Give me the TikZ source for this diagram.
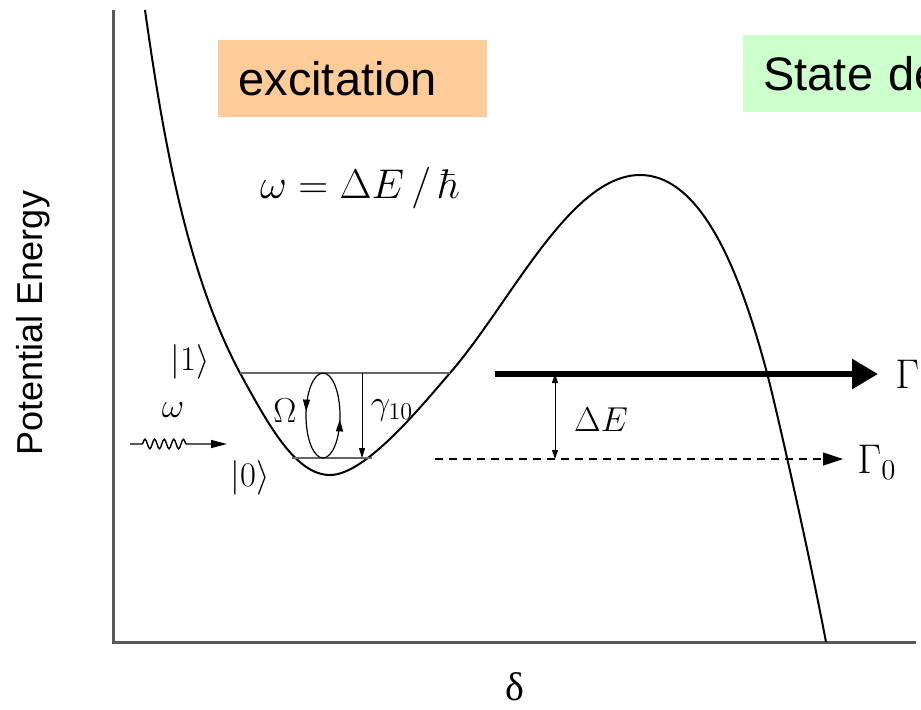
\documentclass[tikz,border=0pt]{standalone}
\usepackage[no-math]{fontspec}
\setmainfont{Liberation Sans}
\newfontfamily\serifgreek{Liberation Serif}
\usetikzlibrary{arrows.meta, positioning, calc, decorations.pathmorphing, decorations.markings}

\definecolor{peach}{HTML}{FFCC99}
\definecolor{mint}{HTML}{CCFFCC}

\begin{document}
\begin{tikzpicture}[
        x=0.5pt, y=-0.5pt,
        axis/.style={line width=1.5pt, draw=black!65},
        pes/.style={line width=1pt},
        lvl/.style={line width=0.6pt, draw=black!60},
        tagbox/.style={anchor=west, inner xsep=10pt, minimum height=38.5pt, text width=#1, align=left, font=\fontsize{23.5}{28}\selectfont},
        lbl/.style={inner sep=0pt, font=\fontsize{17}{20}\selectfont},
        small arr/.style={-{Triangle[length=5pt, width=3pt]}, line width=0.5pt},
        both arr/.style={{Triangle[length=4.5pt, width=3pt]}-{Triangle[length=4.5pt, width=3pt]}, line width=0.5pt},
        big arr/.style={-{Triangle[length=13pt, width=14.5pt]}, line width=3pt},
        dash arr/.style={-{Triangle[length=10pt, width=6.5pt]}, line width=0.6pt, dash pattern=on 4pt off 3pt},
        wave arr/.style={-{Triangle[length=8pt, width=4pt]}, line width=0.7pt, decorate,
            decoration={snake, segment length=4.8pt, amplitude=2.4pt, pre length=6pt, post length=18pt}},
        loop/.style={line width=0.6pt, postaction={decorate},
            decoration={markings,
                mark=at position 0.23 with {\arrow{Triangle[length=6pt, width=3.5pt]}},
                mark=at position 0.73 with {\arrow{Triangle[length=6pt, width=3.5pt]}}}}
    ]
        \useasboundingbox (0,0) rectangle (921,709);
        \clip (0,0) rectangle (921,709);

        % axes
        \coordinate (top) at (113,10);
        \coordinate (origin) at (113,642);
        \coordinate (right) at (916,642);
        \draw[axis] (top) -- (origin) -- (right);

        % potential curve
        \coordinate (start) at (145,10);
        \coordinate (lwall) at (240,373);
        \coordinate (well) at (330,475);
        \coordinate (rwall) at (450,373);
        \coordinate (barrier) at (640,175);
        \coordinate (fall) at (767,373);
        \coordinate (stop) at (826,642);
        \draw[pes] (start) .. controls (162,130) and (185,270) .. (lwall)
            .. controls (267.5,423) and (295,475) .. (well)
            .. controls (366,475) and (423,404) .. (rwall)
            .. controls (510,304) and (570,175) .. (barrier)
            .. controls (705,175) and (743,283) .. (fall)
            .. controls (775,403) and (809,552) .. (stop);

        % levels
        \coordinate (L1a) at (240,373);
        \coordinate (L1b) at (450,373);
        \coordinate (L0a) at (292,458);
        \coordinate (L0b) at (372,458);
        \draw[lvl] (L1a) -- (L1b);
        \draw[lvl] (L0a) -- (L0b);

        \coordinate (rabi) at (323,373);
        \draw[loop] (rabi) arc[start angle=270, end angle=-90, x radius=17, y radius=42.5];
        \coordinate (g1) at (362,373);
        \coordinate (g0) at (362,458);
        \draw[small arr] (g1) -- (g0);

        \node[lbl] (ket1) at (190,362) {$|1\rangle$};
        \node[lbl] (ket0) at (250,478) {$|0\rangle$};
        \node[lbl, font=\fontsize{19}{22}\selectfont] (Om) at (285,411) {$\Omega$};
        \node[lbl] (gam) at (392,410) {$\gamma_{10}$};
        \node[lbl, font=\fontsize{19}{22}\selectfont] (w) at (173,410) {$\omega$};

        % drive
        \coordinate (w0) at (130,444);
        \coordinate (w1) at (227,444);
        \draw[wave arr] (w0) -- (w1);

        % escape rates
        \coordinate (G1a) at (495,374);
        \coordinate (G1b) at (878,374);
        \coordinate (G0a) at (435,459);
        \coordinate (G0b) at (843,459);
        \coordinate (dEa) at (555,374);
        \coordinate (dEb) at (555,459);
        \draw[big arr] (G1a) -- (G1b);
        \draw[dash arr] (G0a) -- (G0b);
        \draw[both arr] (dEa) -- (dEb);
        \node[lbl, font=\fontsize{16}{19}\selectfont] (dE) at (601,420) {$\Delta E$};
        \node[lbl, anchor=west, font=\fontsize{20}{24}\selectfont] (G) at (895,374) {$\Gamma$};
        \node[lbl, anchor=west, font=\fontsize{20}{24}\selectfont] (G0) at (857,462) {$\Gamma_{0}$};

        % headings
        \node[tagbox=114.5pt, fill=peach] (exc) at (218,78.5) {excitation};
        \node[tagbox=100pt, fill=mint] (det) at (743,73.5) {State de};
        \node[font=\fontsize{22}{26}\selectfont] (res) at (360,188) {$\omega = \Delta E\,/\,\hbar$};

        \node[rotate=90, font=\fontsize{18}{22}\selectfont] (ylab) at (33,323) {Potential Energy};
        \node[font=\fontsize{20}{24}\serifgreek] (xlab) at (515,687) {δ};
    \end{tikzpicture}
\end{document}
